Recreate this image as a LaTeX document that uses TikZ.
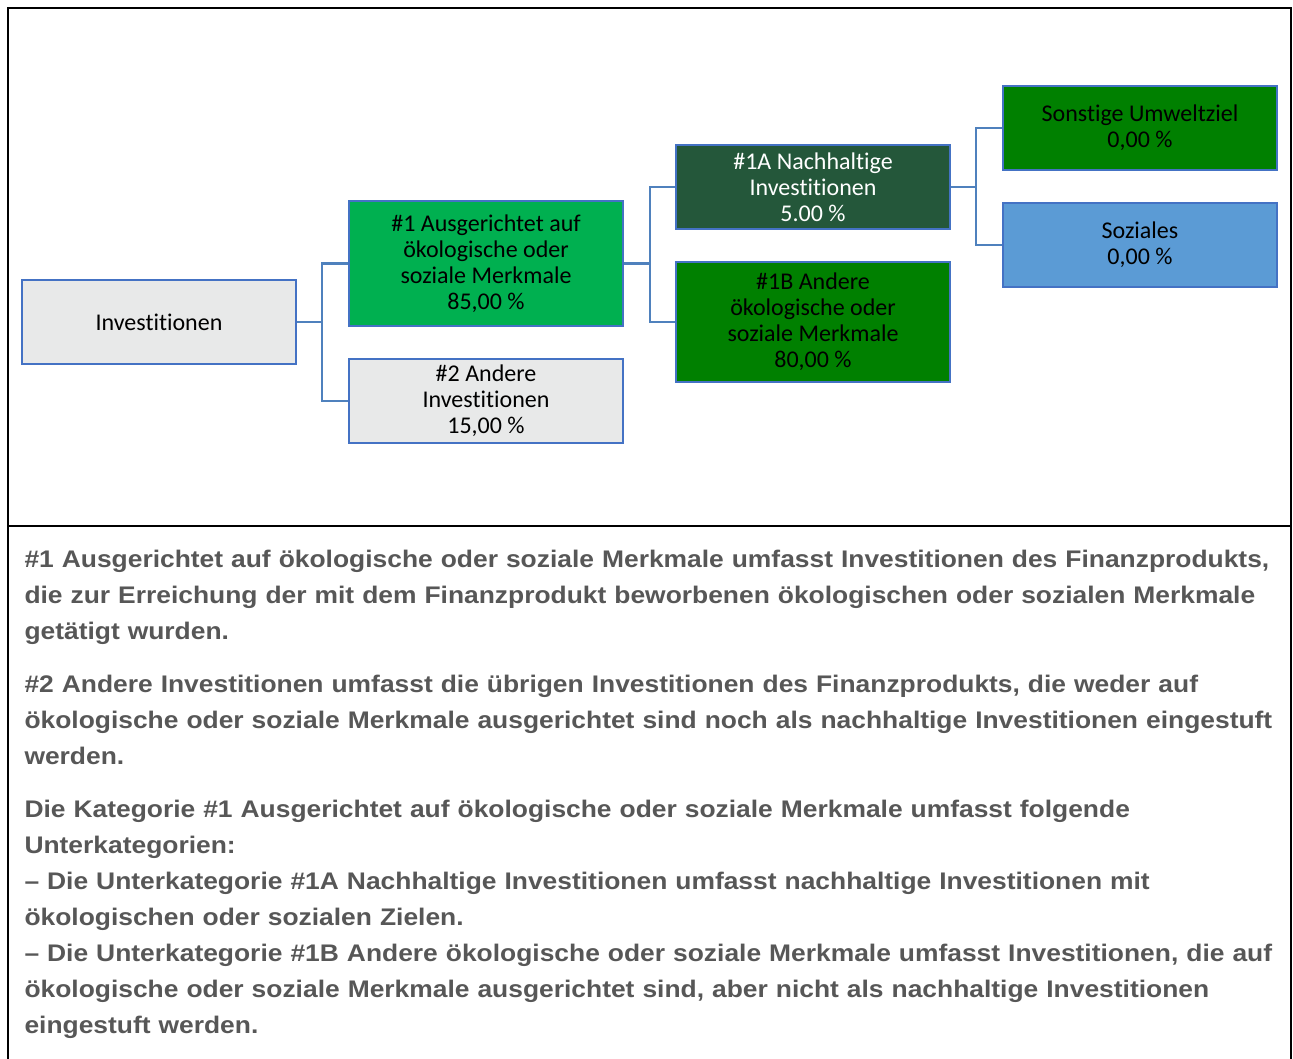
\documentclass[tikz,border=0pt]{standalone}
\usepackage{fontspec}
\setmainfont[Ligatures=NoCommon]{Carlito}
\newfontfamily\notefont[FakeStretch=1.10]{Liberation Sans}
\usetikzlibrary{positioning}

\definecolor{boxgray}{HTML}{E8E9E9}
\definecolor{boxblue}{HTML}{4472C4}
\definecolor{connblue}{HTML}{4F81BD}
\definecolor{lightgreen}{HTML}{00B050}
\definecolor{darkgreen}{HTML}{24573A}
\definecolor{plaingreen}{HTML}{008000}
\definecolor{socialblue}{HTML}{5B9BD5}
\definecolor{notegray}{HTML}{575757}

\tikzset{every picture/.style={line width=0.75pt}}
\tikzset{
  catbox/.style={draw=boxblue, line width=1.9pt, fill=boxgray, minimum width=205.5pt,
    align=center, inner sep=0pt, font=\fontsize{18}{19.5}\selectfont},
  conn/.style={draw=connblue, line width=2.2pt},
  frame/.style={draw=black, line width=1.9pt},
  note/.style={anchor=base west, inner sep=0pt, text width=965pt, align=left,
    text=notegray, font=\notefont\bfseries\fontsize{18}{27}\selectfont}
}

\begin{document}
\begin{tikzpicture}[x=0.75pt,y=0.75pt,yscale=-1,xscale=1]
\useasboundingbox (0,0) rectangle (1293,1059);

%Frame
\draw [frame] (8,1059) -- (8,8) -- (1291,8) -- (1291,1059) ;
\draw [frame] (8,526) -- (1291,526) ;

%Boxes
\node [catbox, minimum height=63pt] (inv) at (159,322) {Investitionen};
\node [catbox, minimum height=93.75pt, fill=lightgreen] (g1) at (486,263.5) {\#1 Ausgerichtet auf\\ökologische oder\\soziale Merkmale\\85,00 \%};
\node [catbox, minimum height=63pt] (g2) at (486,401) {\#2 Andere\\Investitionen\\15,00 \%};
\node [catbox, minimum height=63pt, fill=darkgreen, text=white] (g1a) at (813,187) {\#1A Nachhaltige\\Investitionen\\5.00 \%};
\node [catbox, minimum height=90pt, fill=plaingreen] (g1b) at (813,322) {\#1B Andere\\ökologische oder\\soziale Merkmale\\80,00 \%};
\node [catbox, minimum height=63pt, fill=plaingreen] (env) at (1140,128) {Sonstige Umweltziel\\0,00 \%};
\node [catbox, minimum height=63pt, fill=socialblue] (soc) at (1140,245) {Soziales\\0,00 \%};

%Connectors
\coordinate (fork1) at (322,322);
\coordinate (fork2) at (650,263.5);
\coordinate (fork3) at (976,187);
\draw [conn] (inv.east) -- (fork1) ;
\draw [conn] (g1.west) -| (fork1) |- (g2.west) ;
\draw [conn] (g1.east) -- (fork2) ;
\draw [conn] (g1a.west) -| (fork2) |- (g1b.west) ;
\draw [conn] (g1a.east) -- (fork3) ;
\draw [conn] (env.west) -| (fork3) |- (soc.west) ;

% Text Node
\node [note] (note1) at (24,567) {\#1 Ausgerichtet auf ökologische oder soziale Merkmale umfasst Investitionen des Finanzprodukts,\\die zur Erreichung der mit dem Finanzprodukt beworbenen ökologischen oder sozialen Merkmale\\getätigt wurden.};
% Text Node
\node [note] (note2) at (24,692) {\#2 Andere Investitionen umfasst die übrigen Investitionen des Finanzprodukts, die weder auf\\ökologische oder soziale Merkmale ausgerichtet sind noch als nachhaltige Investitionen eingestuft\\werden.};
% Text Node
\node [note] (note3) at (24,817) {Die Kategorie \#1 Ausgerichtet auf ökologische oder soziale Merkmale umfasst folgende\\Unterkategorien:\\– Die Unterkategorie \#1A Nachhaltige Investitionen umfasst nachhaltige Investitionen mit\\ökologischen oder sozialen Zielen.\\– Die Unterkategorie \#1B Andere ökologische oder soziale Merkmale umfasst Investitionen, die auf\\ökologische oder soziale Merkmale ausgerichtet sind, aber nicht als nachhaltige Investitionen\\eingestuft werden.};

\end{tikzpicture}
\end{document}
